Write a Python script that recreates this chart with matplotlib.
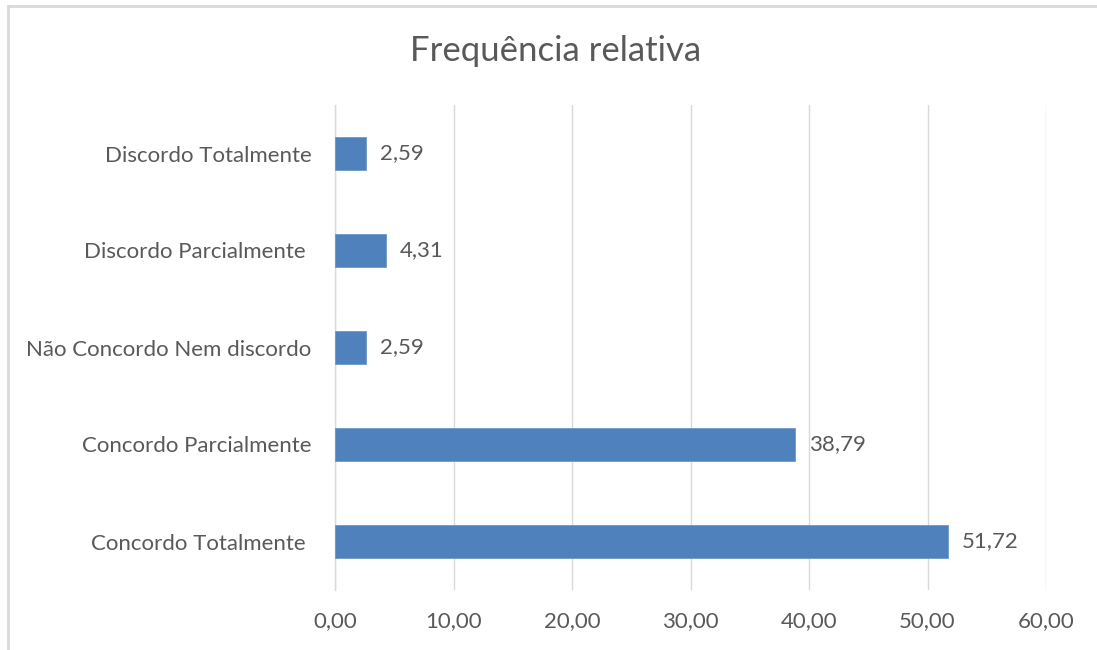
import matplotlib
matplotlib.use("Agg")
import matplotlib.pyplot as plt
from matplotlib.lines import Line2D

# Survey answers (bottom to top) and their relative frequencies (%)
categories = [
    "Concordo Totalmente ",
    "Concordo Parcialmente",
    "Não Concordo Nem discordo",
    "Discordo Parcialmente ",
    "Discordo Totalmente",
]
values = [51.72, 38.79, 2.59, 4.31, 2.59]
x_ticks = [0, 10, 20, 30, 40, 50, 60]
title = "Frequência relativa"

text_color = "#595959"
bar_color = "#4F81BD"
grid_color = "#D9D9D9"

plt.rcParams["font.family"] = ["Lato", "DejaVu Sans"]

W, H = 1097, 650
fig = plt.figure(figsize=(W / 100, H / 100), dpi=100)
fig.patch.set_facecolor("white")

ax = fig.add_axes([335 / W, 1 - 590 / H, (1046 - 335) / W, (590 - 105) / H])

y = list(range(len(categories)))
ax.barh(y, values, height=0.35, color=bar_color, edgecolor="#6E97C8", linewidth=0.6, zorder=3)

ax.set_xlim(0, 60)
ax.set_ylim(-0.5, len(categories) - 0.5)
ax.set_xticks(x_ticks)
ax.set_xticklabels([f"{t:.2f}".replace(".", ",") for t in x_ticks])
ax.set_yticks(y)
ax.set_yticklabels(categories)

ax.grid(axis="x", color=grid_color, linewidth=1.0, zorder=0)
ax.tick_params(axis="both", length=0, labelsize=16, colors=text_color)
ax.tick_params(axis="y", pad=17)
ax.tick_params(axis="x", pad=15)

for side in ["top", "right", "bottom"]:
    ax.spines[side].set_visible(False)
ax.spines["left"].set_color(grid_color)
ax.spines["left"].set_linewidth(1.0)

for yi, v in zip(y, values):
    ax.annotate(f"{v:.2f}".replace(".", ","), xy=(v, yi), xytext=(10, 0),
                textcoords="offset points", va="center", ha="left",
                fontsize=16, color=text_color)

fig.text(556 / W, 1 - 51 / H, title, ha="center", va="center",
         fontsize=25, color=text_color)

# chart frame (top and left edges)
fig.add_artist(Line2D([8 / W, 1], [1 - 6 / H, 1 - 6 / H], color="#D9D9D9",
                      linewidth=2, transform=fig.transFigure))
fig.add_artist(Line2D([8 / W, 8 / W], [0, 1 - 6 / H], color="#D9D9D9",
                      linewidth=2, transform=fig.transFigure))

fig.savefig("out.png", dpi=100, facecolor="white")
